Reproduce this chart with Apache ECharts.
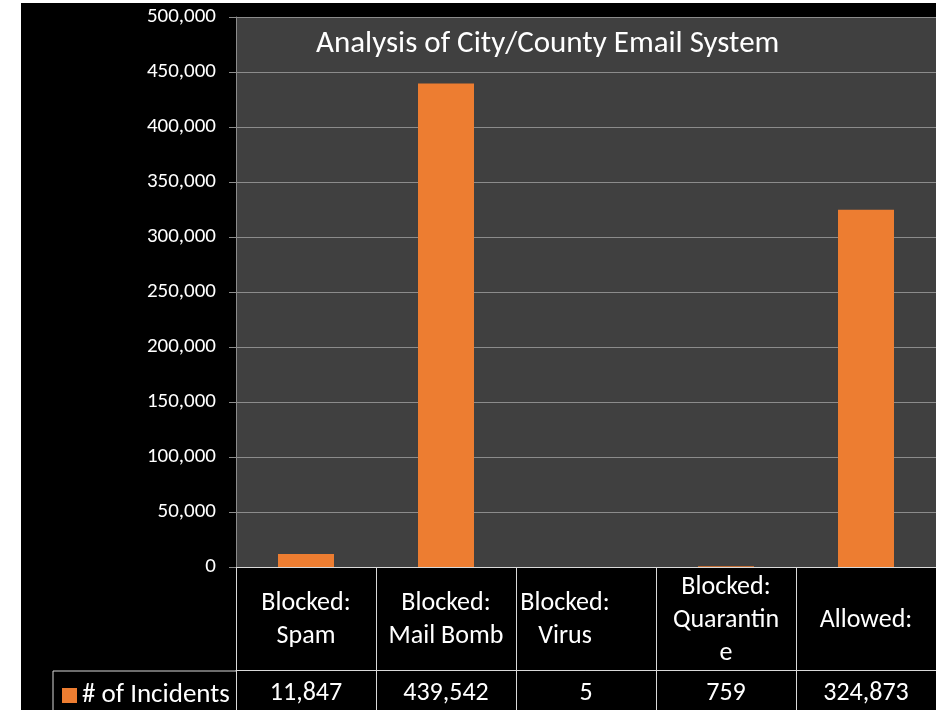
<!DOCTYPE html>
<html>
<head>
<meta charset="utf-8">
<script src="https://cdn.jsdelivr.net/npm/echarts@6/dist/echarts.min.js"></script>
<style>
  html, body { margin: 0; padding: 0; background: #ffffff; }
  #chart { position: absolute; left: 21px; top: 3px; width: 915px; height: 707px; background: #000000; }
</style>
</head>
<body>
<div id="chart"></div>
<script>
// categories as wrapped in the table header
const categories = ['Blocked:\nSpam', 'Blocked:\nMail Bomb', 'Blocked:\nVirus', 'Blocked:\nQuarantin\ne', 'Allowed:'];
const incidents = [11847, 439542, 5, 759, 324873];
const seriesName = '# of Incidents';
const titleText = 'Analysis of City/County Email System';

const font = 'Carlito, Lato, "Liberation Sans", sans-serif';
const fmt = v => v.toLocaleString('en-US');

const chart = echarts.init(document.getElementById('chart'));
chart.setOption({
  backgroundColor: '#000000',
  animation: false,
  title: {
    text: titleText,
    left: 290,
    top: 21,
    textStyle: { color: '#ffffff', fontSize: 31, fontWeight: 'normal', fontFamily: font }
  },
  legend: {
    data: [seriesName],
    left: 36,
    top: 674,
    itemWidth: 15,
    itemHeight: 15,
    itemGap: 5,
    icon: 'rect',
    textStyle: { color: '#ffffff', fontSize: 27, fontFamily: font }
  },
  grid: {
    left: 215, right: 0, top: 14, bottom: 143,
    show: true, backgroundColor: '#404040', borderWidth: 0
  },
  xAxis: [
    {
      type: 'category',
      data: categories,
      axisLine: { show: true, lineStyle: { color: '#d9d9d9', width: 1 } },
      axisTick: { show: true, length: 143, lineStyle: { color: '#d9d9d9', width: 1 } },
      axisLabel: {
        color: '#ffffff', fontSize: 26, fontFamily: font, lineHeight: 33,
        margin: 53, verticalAlign: 'middle', interval: 0,
        // the Virus header sits left in its cell, as in the source table
        formatter: (v, i) => i === 2 ? v.split('\n').map(s => '{shift|' + s + '}').join('\n') : v,
        rich: {
          shift: { color: '#ffffff', fontSize: 26, fontFamily: font, lineHeight: 33, padding: [0, 42, 0, 0] }
        }
      }
    },
    {
      type: 'category',
      position: 'bottom',
      offset: 103,
      data: incidents.map(fmt),
      axisLine: { show: true, lineStyle: { color: '#d9d9d9', width: 1 } },
      axisTick: { show: false },
      axisLabel: {
        color: '#ffffff', fontSize: 26, fontFamily: font,
        margin: 23, verticalAlign: 'middle', interval: 0
      }
    }
  ],
  yAxis: {
    type: 'value',
    min: 0, max: 500000, interval: 50000,
    axisLine: { show: true, lineStyle: { color: '#8c8c8c' } },
    axisTick: { show: true, length: 7, lineStyle: { color: '#8c8c8c' } },
    splitLine: { show: true, lineStyle: { color: '#8c8c8c', width: 1 } },
    axisLabel: { color: '#ffffff', fontSize: 21, fontFamily: font, margin: 20, formatter: fmt }
  },
  graphic: [
    {
      type: 'polyline',
      shape: { points: [[32, 707], [32, 668], [215, 668]] },
      style: { stroke: '#d9d9d9', lineWidth: 1, fill: null }
    }
  ],
  series: [
    {
      name: seriesName,
      type: 'bar',
      data: incidents,
      barWidth: '40%',
      itemStyle: { color: '#ED7D31' }
    }
  ]
});
</script>
</body>
</html>
